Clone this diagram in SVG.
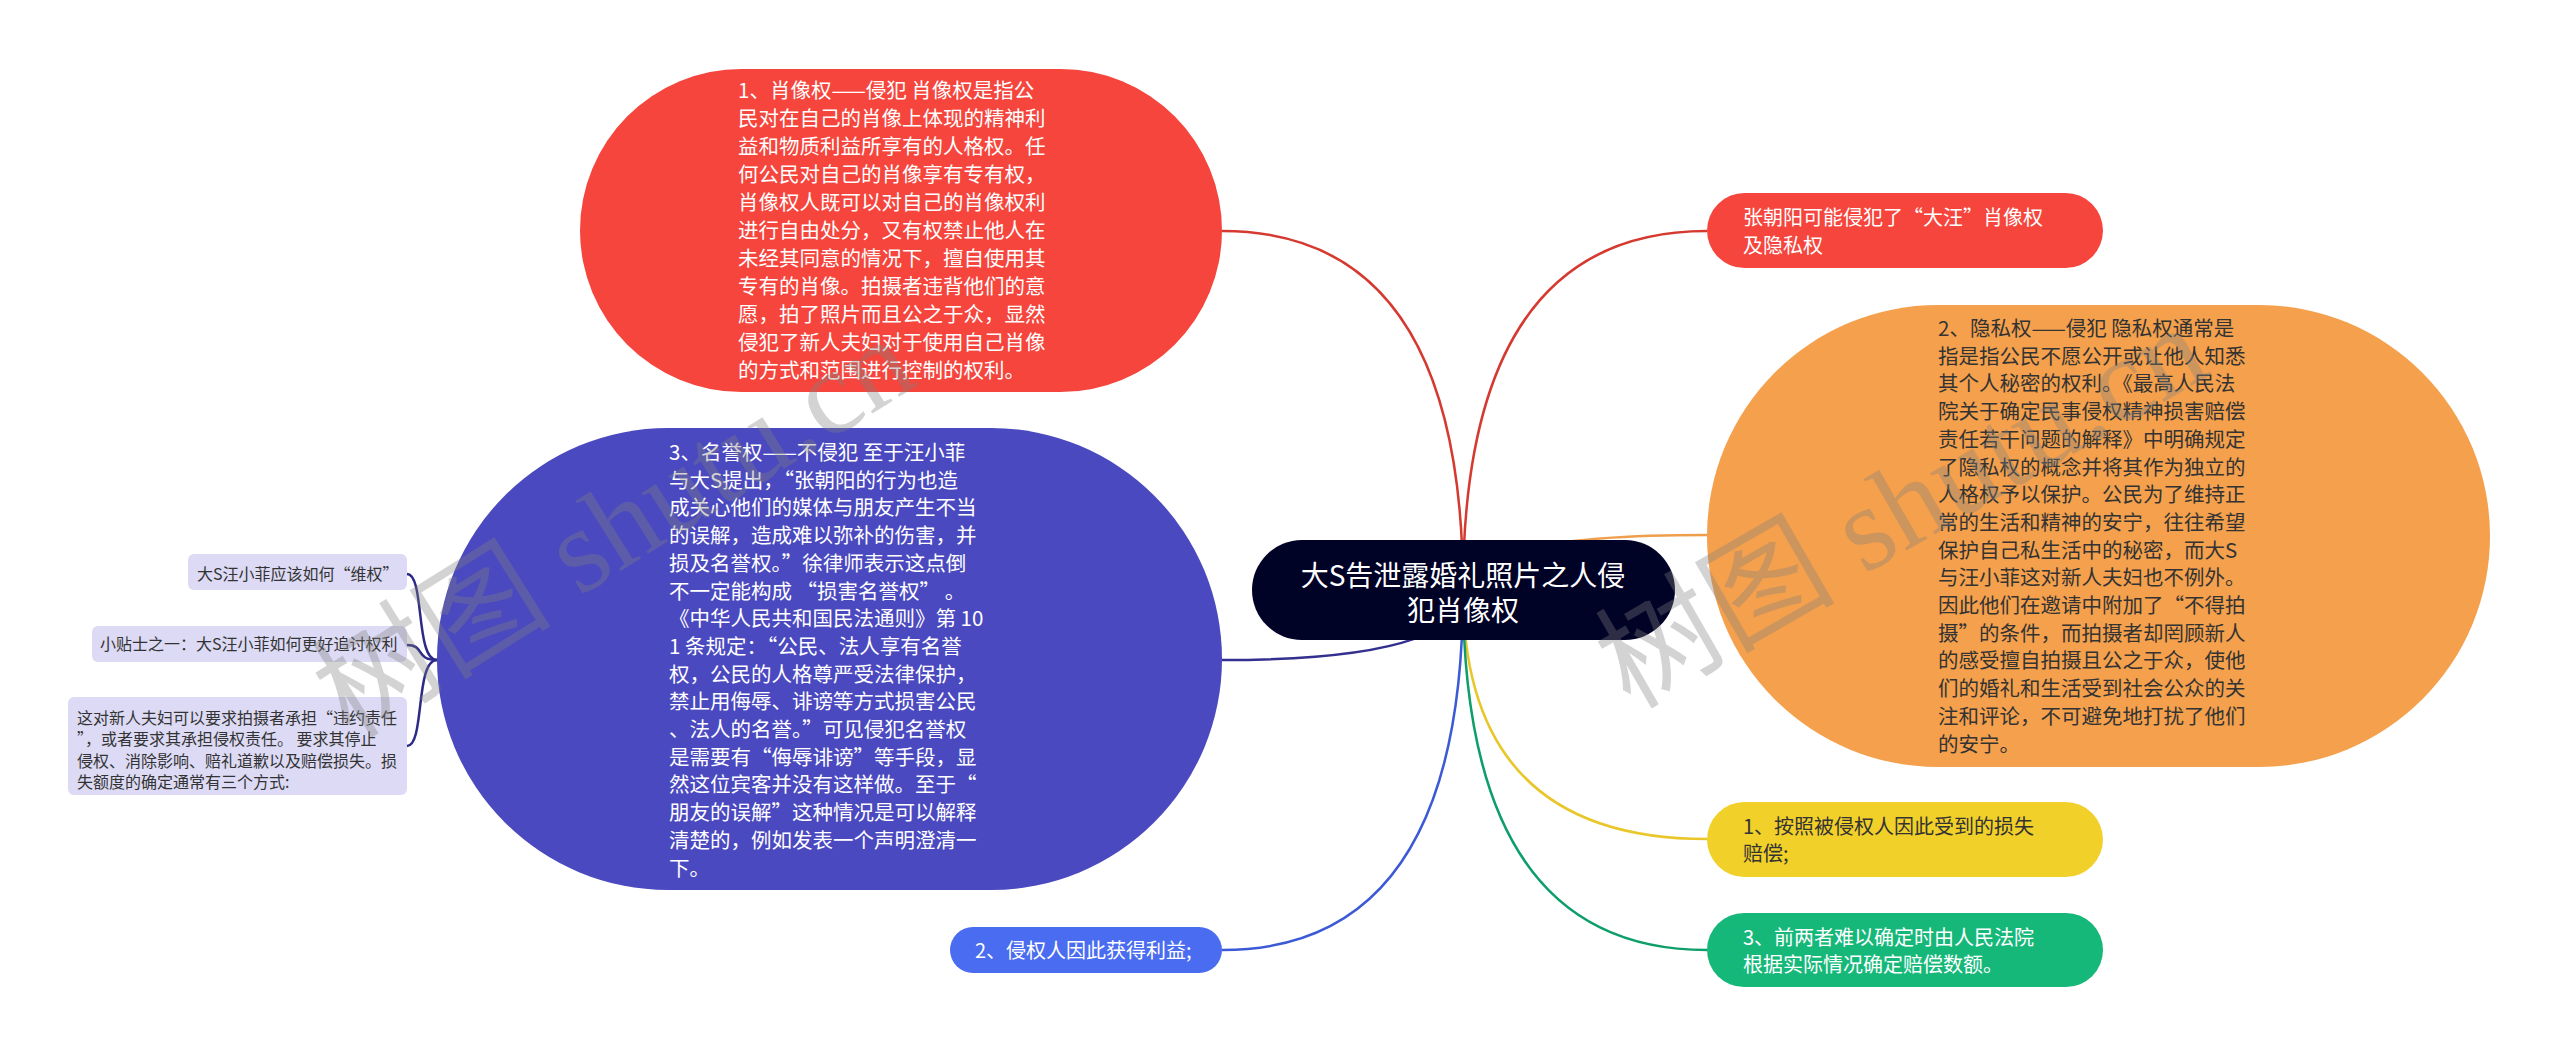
<svg xmlns="http://www.w3.org/2000/svg" width="2560" height="1057" viewBox="0 0 2560 1057">
<style>
.t{font-family:"Noto Sans CJK SC","Noto Sans",sans-serif;}
.b{font-size:20.5px}
.m{font-size:20px}
.s{font-size:16px}
.w{fill:#ffffff}
.d{fill:#333333}
.q{font-feature-settings:"fwid" 1}
.lk{fill:none;stroke-width:2.5}
.wm{font-family:"Liberation Serif","Noto Sans CJK SC",serif;font-size:120px;fill:#808080;fill-opacity:0.35}
</style>
<rect x="0" y="0" width="2560" height="1057" fill="#ffffff"/>
<g id="connectors">
<path class="lk" stroke="#d5392f" d="M1463 590 Q1463 231 1222 231"/>
<path class="lk" stroke="#d5392f" d="M1463 590 Q1463 231 1707 231"/>
<path class="lk" stroke="#ef9f4c" d="M1463 590 Q1463 535 1707 535"/>
<path class="lk" stroke="#34308f" d="M1463 590 Q1463 660 1222 660"/>
<path class="lk" stroke="#e9c62a" d="M1463 590 Q1463 839 1707 839"/>
<path class="lk" stroke="#0e9e6a" d="M1463 590 Q1463 950 1707 950"/>
<path class="lk" stroke="#3d5ad6" d="M1463 590 Q1463 950 1222 950"/>
<path class="lk" stroke="#2c2a86" d="M407 574 C425 574 415 660 437 660"/>
<path class="lk" stroke="#2c2a86" d="M407 645 C425 645 415 660 437 660"/>
<path class="lk" stroke="#2c2a86" d="M407 746 C425 746 415 660 437 660"/>
</g>
<g id="node-root">
<rect x="1252" y="540" width="423" height="100" rx="50" fill="#000226"/>
<text class="t w" font-size="28" text-anchor="middle"><tspan x="1463" y="586">大S告泄露婚礼照片之人侵</tspan><tspan x="1463" y="621">犯肖像权</tspan></text>
</g>
<g id="node-portrait">
<rect x="580" y="69" width="642" height="323" rx="161.5" fill="#f5453d"/>
<text class="t b w">
<tspan x="738" y="98">1、肖像权——侵犯 肖像权是指公</tspan>
<tspan x="738" y="126">民对在自己的肖像上体现的精神利</tspan>
<tspan x="738" y="154">益和物质利益所享有的人格权。任</tspan>
<tspan x="738" y="182">何公民对自己的肖像享有专有权，</tspan>
<tspan x="738" y="210">肖像权人既可以对自己的肖像权利</tspan>
<tspan x="738" y="238">进行自由处分，又有权禁止他人在</tspan>
<tspan x="738" y="266">未经其同意的情况下，擅自使用其</tspan>
<tspan x="738" y="294">专有的肖像。拍摄者违背他们的意</tspan>
<tspan x="738" y="322">愿，拍了照片而且公之于众，显然</tspan>
<tspan x="738" y="350">侵犯了新人夫妇对于使用自己肖像</tspan>
<tspan x="738" y="378">的方式和范围进行控制的权利。</tspan>
</text>
</g>
<g id="node-reputation">
<rect x="437" y="428" width="785" height="462" rx="231" fill="#4b49bf"/>
<text class="t b w">
<tspan x="669" y="460">3、名誉权——不侵犯 至于汪小菲</tspan>
<tspan x="669" y="487.7">与大S提出，<tspan class="q">“</tspan>张朝阳的行为也造</tspan>
<tspan x="669" y="515.4">成关心他们的媒体与朋友产生不当</tspan>
<tspan x="669" y="543.1">的误解，造成难以弥补的伤害，并</tspan>
<tspan x="669" y="570.8">损及名誉权。<tspan class="q">”</tspan>徐律师表示这点倒</tspan>
<tspan x="669" y="598.5">不一定能构成 <tspan class="q">“</tspan>损害名誉权<tspan class="q">”</tspan> 。</tspan>
<tspan x="669" y="626.2">《中华人民共和国民法通则》第 10</tspan>
<tspan x="669" y="653.9">1 条规定：<tspan class="q">“</tspan>公民、法人享有名誉</tspan>
<tspan x="669" y="681.6">权，公民的人格尊严受法律保护，</tspan>
<tspan x="669" y="709.3">禁止用侮辱、诽谤等方式损害公民</tspan>
<tspan x="669" y="737">、法人的名誉。<tspan class="q">”</tspan>可见侵犯名誉权</tspan>
<tspan x="669" y="764.7">是需要有<tspan class="q">“</tspan>侮辱诽谤<tspan class="q">”</tspan>等手段，显</tspan>
<tspan x="669" y="792.4">然这位宾客并没有这样做。至于<tspan class="q">“</tspan></tspan>
<tspan x="669" y="820.1">朋友的误解<tspan class="q">”</tspan>这种情况是可以解释</tspan>
<tspan x="669" y="847.8">清楚的，例如发表一个声明澄清一</tspan>
<tspan x="669" y="875.5">下。</tspan>
</text>
</g>
<g id="node-tip1">
<rect x="188" y="554" width="219" height="36" rx="6" fill="#dcdaf4"/>
<text class="t s d" x="197" y="580">大S汪小菲应该如何<tspan class="q">“</tspan>维权<tspan class="q">”</tspan></text>
</g>
<g id="node-tip2">
<rect x="92" y="626" width="315" height="36" rx="6" fill="#dcdaf4"/>
<text class="t s d" x="100" y="650">小贴士之一：大S汪小菲如何更好追讨权利</text>
</g>
<g id="node-tip3">
<rect x="68" y="697" width="339" height="98" rx="6" fill="#dcdaf4"/>
<text class="t s d">
<tspan x="77" y="724">这对新人夫妇可以要求拍摄者承担<tspan class="q">“</tspan>违约责任</tspan>
<tspan x="77" y="745.3"><tspan class="q">”</tspan>，或者要求其承担侵权责任。 要求其停止</tspan>
<tspan x="77" y="766.6">侵权、消除影响、赔礼道歉以及赔偿损失。损</tspan>
<tspan x="77" y="788">失额度的确定通常有三个方式:</tspan>
</text>
</g>
<g id="node-profit">
<rect x="950" y="927" width="272" height="46" rx="23" fill="#4a6cf0"/>
<text class="t m w" x="975" y="957.6">2、侵权人因此获得利益;</text>
</g>
<g id="node-infringe">
<rect x="1707" y="193" width="396" height="75" rx="37.5" fill="#f5453d"/>
<text class="t m w"><tspan x="1743" y="225">张朝阳可能侵犯了<tspan class="q">“</tspan>大汪<tspan class="q">”</tspan>肖像权</tspan><tspan x="1743" y="252.5">及隐私权</tspan></text>
</g>
<g id="node-privacy">
<rect x="1707" y="305" width="783" height="462" rx="231" fill="#f4a04c"/>
<text class="t b d">
<tspan x="1938" y="336">2、隐私权——侵犯 隐私权通常是</tspan>
<tspan x="1938" y="363.7">指是指公民不愿公开或让他人知悉</tspan>
<tspan x="1938" y="391.4">其个人秘密的权利。《最高人民法</tspan>
<tspan x="1938" y="419.1">院关于确定民事侵权精神损害赔偿</tspan>
<tspan x="1938" y="446.8">责任若干问题的解释》中明确规定</tspan>
<tspan x="1938" y="474.5">了隐私权的概念并将其作为独立的</tspan>
<tspan x="1938" y="502.2">人格权予以保护。公民为了维持正</tspan>
<tspan x="1938" y="529.9">常的生活和精神的安宁，往往希望</tspan>
<tspan x="1938" y="557.6">保护自己私生活中的秘密，而大S</tspan>
<tspan x="1938" y="585.3">与汪小菲这对新人夫妇也不例外。</tspan>
<tspan x="1938" y="613">因此他们在邀请中附加了<tspan class="q">“</tspan>不得拍</tspan>
<tspan x="1938" y="640.7">摄<tspan class="q">”</tspan>的条件，而拍摄者却罔顾新人</tspan>
<tspan x="1938" y="668.4">的感受擅自拍摄且公之于众，使他</tspan>
<tspan x="1938" y="696.1">们的婚礼和生活受到社会公众的关</tspan>
<tspan x="1938" y="723.8">注和评论，不可避免地打扰了他们</tspan>
<tspan x="1938" y="751.5">的安宁。</tspan>
</text>
</g>
<g id="node-loss">
<rect x="1707" y="802" width="396" height="75" rx="37.5" fill="#f2d02a"/>
<text class="t m d"><tspan x="1743" y="834">1、按照被侵权人因此受到的损失</tspan><tspan x="1743" y="861">赔偿;</tspan></text>
</g>
<g id="node-court">
<rect x="1707" y="913" width="396" height="74" rx="37" fill="#16b87a"/>
<text class="t m w"><tspan x="1743" y="944.6">3、前两者难以确定时由人民法院</tspan><tspan x="1743" y="971.6">根据实际情况确定赔偿数额。</tspan></text>
</g>
<g id="watermark">
<text class="wm" transform="translate(350 740) rotate(-32)">树图 shutu.cn</text>
<text class="wm" transform="translate(1630 710) rotate(-30)">树图 shutu.cn</text>
</g>
</svg>
